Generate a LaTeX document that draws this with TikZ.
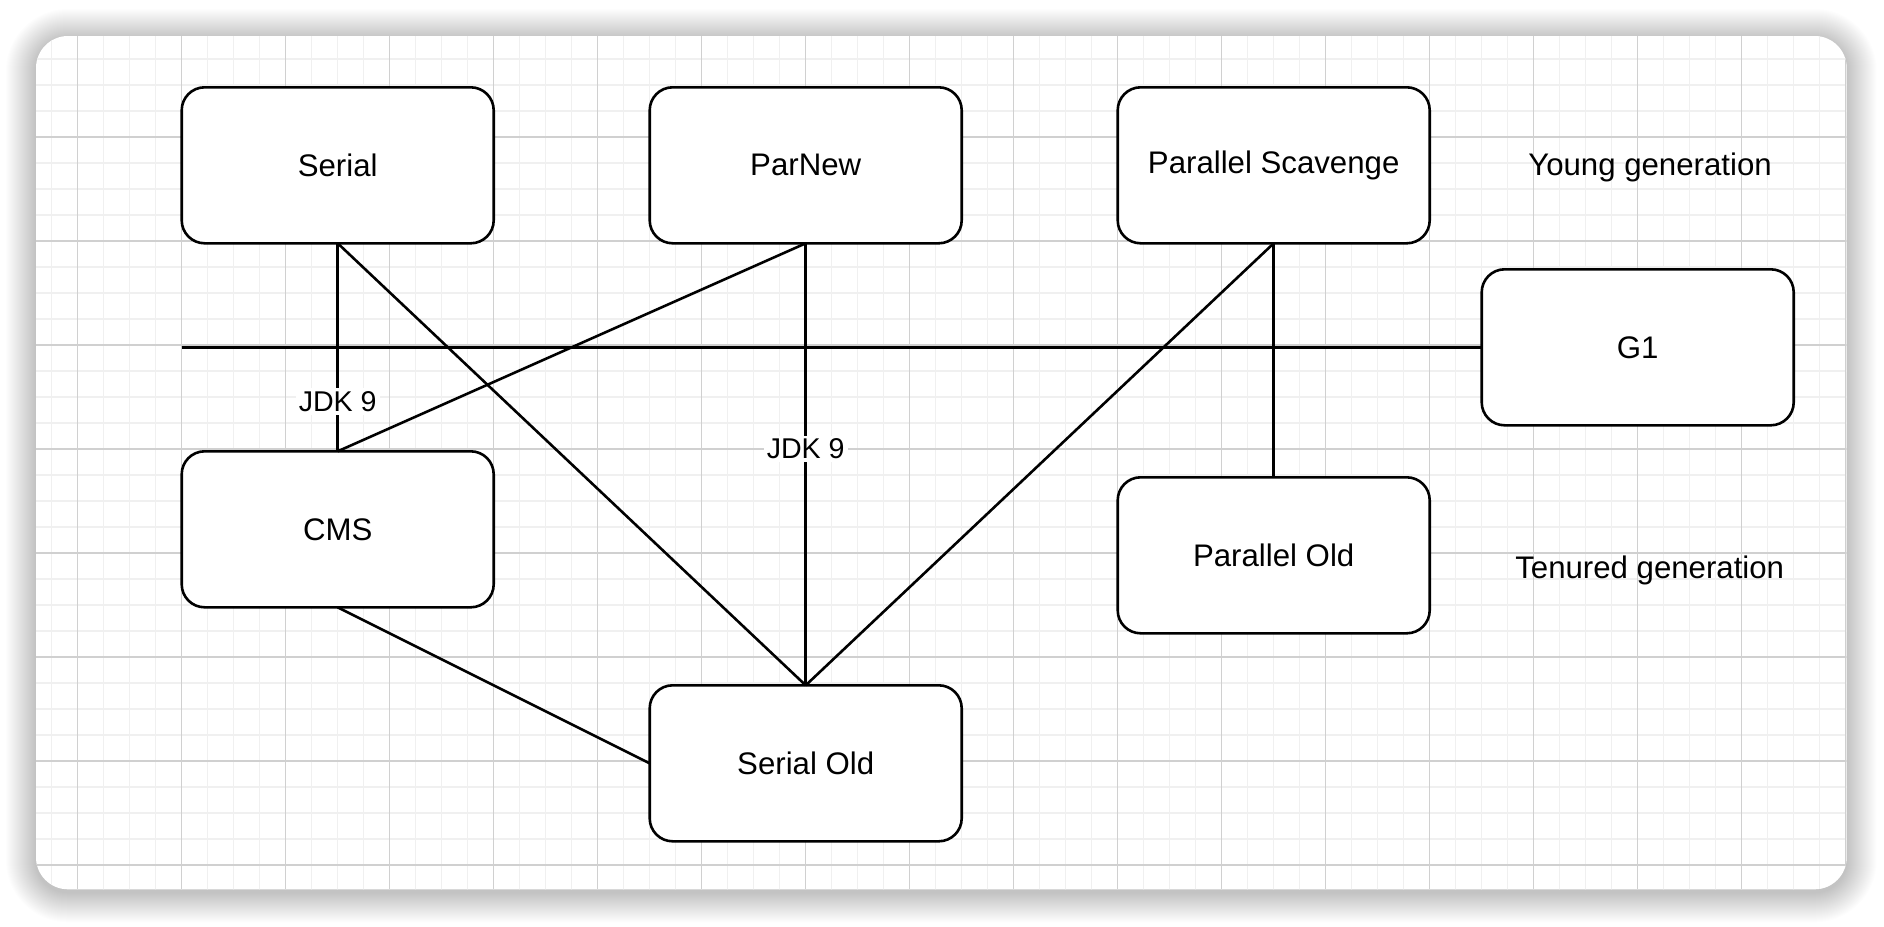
\documentclass[tikz,border=0pt]{standalone}
\usepackage{fontspec}
\setmainfont{Liberation Sans}
\begin{document}
\begin{tikzpicture}[x=1pt,y=-1pt,
  box/.style={draw=black, line width=2.6pt, rounded corners=23pt, fill=white,
    minimum width=312pt, minimum height=156pt, inner sep=0pt, outer sep=0pt,
    font=\fontsize{31.2}{37}\selectfont, anchor=north west},
  conn/.style={draw=black, line width=2.6pt},
  lbl/.style={fill=white, font=\fontsize{28.6}{34}\selectfont, inner sep=3pt},
  plain/.style={font=\fontsize{31.2}{37}\selectfont, inner sep=0pt, anchor=base},
  minorline/.style={draw={rgb,255:red,240;green,240;blue,240}, line width=1.3pt},
  majorline/.style={draw={rgb,255:red,208;green,208;blue,208}, line width=1.1pt}]
\useasboundingbox (0,0) rectangle (1884,926);
\fill[white] (0,0) rectangle (1884,926);
% shadow
\foreach \i in {1,...,30}{
  \pgfmathsetmacro\rr{32+\i}
  \fill[black, opacity=0.007, rounded corners=\rr pt] ({36-\i},{39-\i}) rectangle ({1846.7+\i},{892.3+\i});
}
% frame
\fill[white, rounded corners=32pt] (36,36) rectangle (1846.7,889.3);
\begin{scope}
  \clip[rounded corners=32pt] (36,36) rectangle (1846.7,889.3);
  \foreach \k in {0,...,70} \draw[minorline] ({51.7+26*\k},30) -- ({51.7+26*\k},900);
  \foreach \k in {0,...,34} \draw[minorline] (30,{33+26*\k}) -- (1860,{33+26*\k});
  \foreach \k in {0,...,17} \draw[majorline] ({77.7+104*\k},30) -- ({77.7+104*\k},900);
  \foreach \k in {0,...,8} \draw[majorline] (30,{33+104*\k}) -- (1860,{33+104*\k});
\end{scope}
% nodes
\node[box] (serial) at (181.7,87.3) {Serial};
\node[box] (parnew) at (649.7,87.3) {ParNew};
\node[box] (pscav) at (1117.7,87.3) {Parallel Scavenge};
\node[box] (g1) at (1481.7,269.3) {G1};
\node[box] (cms) at (181.7,451.3) {CMS};
\node[box] (pold) at (1117.7,477.3) {Parallel Old};
\node[box] (sold) at (649.7,685.3) {Serial Old};
\node[plain] (young) at (1650,175.7) {Young generation};
\node[plain] (tenured) at (1649.7,578.3) {Tenured generation};
\coordinate (hl) at (181.7,347.3);
% connectors
\draw[conn] (hl) -- (g1.west);
\draw[conn] (serial.south) -- (sold.north);
\draw[conn] (parnew.south) -- (cms.north);
\draw[conn] (pscav.south) -- (sold.north);
\draw[conn] (pscav.south) -- (pold.north);
\draw[conn] (cms.south) -- (sold.west);
\draw[conn] (serial.south) -- node[lbl, pos=0.76] {JDK 9} (cms.north);
\draw[conn] (parnew.south) -- node[lbl, pos=0.465] {JDK 9} (sold.north);
\end{tikzpicture}
\end{document}
